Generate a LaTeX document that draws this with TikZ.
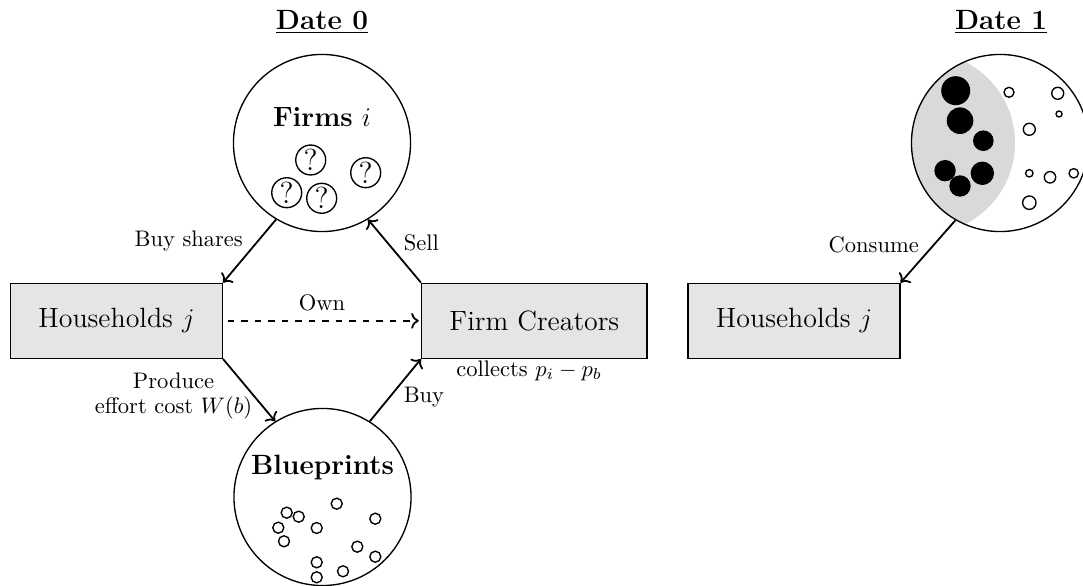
\documentclass[tikz,border=0pt]{standalone}
\usetikzlibrary{arrows.meta}
\begin{document}
\begin{tikzpicture}[x=0.4444pt,y=-0.4444pt,
  mainf/.style={font=\fontsize{12.4}{15}\selectfont},
  lab/.style={font=\fontsize{10}{10.7}\selectfont,inner sep=0pt},
  bigcirc/.style={circle,draw,line width=0.6pt,minimum size=78.7pt,inner sep=0pt},
  hbox/.style={draw,line width=0.6pt,fill=black!10,minimum height=33.3pt,inner xsep=12.35pt,inner ysep=0pt,font=\fontsize{12.4}{15}\selectfont},
  qm/.style={circle,draw,line width=0.6pt,minimum size=13.3pt,inner sep=0pt,font=\fontsize{13.5}{15}\selectfont},
  bp/.style={circle,draw,line width=0.6pt,inner sep=0pt,minimum size=4.9pt},
  arr/.style={->,line width=0.8pt},
]
\clip (0,0) rectangle (1083,586);
% titles
\node[mainf] (d0) at (322,22) {\underline{\textbf{Date 0}}};
\node[mainf] (d1) at (1001,22) {\underline{\textbf{Date 1}}};
% date 0
\node[bigcirc] (firms) at (322,143) {};
\node[mainf] (firmslbl) at (322,117) {\textbf{Firms} $i$};
\node[qm] (q1) at (310.7,160) {?};
\node[qm] (q2) at (365.7,172.7) {?};
\node[qm] (q3) at (286.7,192.7) {?};
\node[qm] (q4) at (321.7,198.3) {?};
\node[hbox,anchor=east] (hh) at (223,320.8) {Households $j$};
\node[hbox,anchor=west] (fc) at (421,320.8) {Firm Creators};
\node[bigcirc] (bp) at (322.5,497) {};
\node[mainf] (bplbl) at (322.5,468) {\textbf{Blueprints}};
\foreach \x/\y [count=\i] in {286.7/512.7,298.7/516.7,336.7/503.7,375.3/518.7,278.3/527.7,316.7/528,284/541.3,357.3/546.7,375.3/556.7,316.7/562.3,343/571.3,316.7/577.3}
  \node[bp] (b\i) at (\x,\y) {};
% connectors
\draw[arr] (firms.239) -- (hh.north east);
\draw[arr] (fc.north west) -- (firms.301);
\draw[arr] (hh.south east) -- (bp.122);
\draw[arr] (bp.58.5) -- (fc.south west);
\draw[->,line width=0.8pt,dashed,shorten <=2pt,shorten >=1pt] (hh.east) -- (fc.west);
% labels
\node[lab,anchor=east] (lbuy) at (243.3,240.7) {Buy shares};
\node[lab,anchor=west] (lsell) at (403.3,243.3) {Sell};
\node[lab] (lown) at (322,303.3) {Own};
\node[lab,align=center] (lprod) at (173.5,396) {Produce\\effort cost $W(b)$};
\node[lab,anchor=west] (lbuy2) at (403.3,396.7) {Buy};
\node[lab,anchor=west] (lcoll) at (456,371) {collects $p_i-p_b$};
% date 1
\begin{scope}
  \clip (1000,143) circle (88.5);
  \fill[black!15] (924,143) circle (91);
\end{scope}
\node[bigcirc] (pool) at (1000,143) {};
\fill (955.7,90.7) circle (14.5);
\fill (960,120.7) circle (13.3);
\fill (983.3,140.7) circle (10.3);
\fill (945,170.7) circle (10.7);
\fill (982.3,173.3) circle (11.7);
\fill (960,186) circle (10.7);
\foreach \x/\y/\r in {1009/92.3/5,1057.7/93.3/6,1059/114/3,1029.3/129.3/6,1029.3/173.3/3.7,1050/177.3/5.7,1073.7/173.3/4.7,1029.3/202.7/6.7}
  \draw[line width=0.6pt] (\x,\y) circle (\r);
\node[hbox] (hh2) at (794,320.8) {Households $j$};
\draw[arr] (pool.240) -- (hh2.north east);
\node[lab] (lcons) at (873.7,245) {Consume};
\end{tikzpicture}
\end{document}
